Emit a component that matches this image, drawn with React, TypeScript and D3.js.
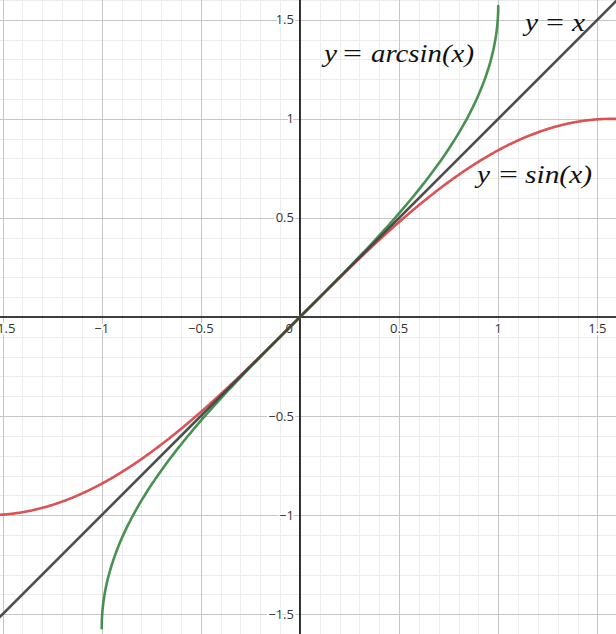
import React from "react";
import * as d3 from "d3";

const W = 616;
const H = 634;
const xDomain = [-1.513, 1.594];
const yDomain = [-1.6, 1.6];
const majorTicks = [-1.5, -1, -0.5, 0.5, 1, 1.5];
const xTickLabels = ["−1.5", "−1", "−0.5", "0.5", "1", "1.5"];
const yTickLabels = ["−1.5", "−1", "−0.5", "0.5", "1", "1.5"];
const minorStep = 0.1;

// curves: y = sin(x), y = arcsin(x), y = x
const curveNames = ["sin", "arcsin", "identity"];
const curveColors = ["#d94a4c", "#3f8b47", "#444444"];

const x = d3.scaleLinear().domain(xDomain).range([0, W]);
const y = d3.scaleLinear().domain(yDomain).range([H, 0]);

function curvePoints(name: string): [number, number][] {
  if (name === "sin") {
    return d3.range(xDomain[0], xDomain[1] + 0.001, 0.005).map((v) => [v, Math.sin(v)]);
  }
  if (name === "arcsin") {
    return d3.range(-Math.PI / 2, Math.PI / 2 + 0.0001, 0.005).map((t) => [Math.sin(t), t]);
  }
  return [
    [xDomain[0], xDomain[0]],
    [xDomain[1], xDomain[1]],
  ];
}

const line = d3
  .line<[number, number]>()
  .x((d) => x(d[0]))
  .y((d) => y(d[1]));

const mathFont = "'Liberation Serif', 'DejaVu Serif', serif";
const tickFont = "'Open Sans', 'Noto Sans', sans-serif";

type Part = { s: string; dx: number; w: number; it: boolean };

function MathLabel({ px, py, parts }: { px: number; py: number; parts: Part[] }) {
  return (
    <g fontFamily={mathFont} fontSize={26} fill="#111">
      {parts.map((p, i) => (
        <text key={i} x={px + p.dx} y={py} fontStyle={p.it ? "italic" : "normal"} textLength={p.w} lengthAdjust="spacingAndGlyphs">
          {p.s}
        </text>
      ))}
    </g>
  );
}

export default function App() {
  const minorX = d3.range(Math.ceil(xDomain[0] / minorStep), Math.floor(xDomain[1] / minorStep) + 1).map((k) => k * minorStep);
  const minorY = d3.range(Math.ceil(yDomain[0] / minorStep), Math.floor(yDomain[1] / minorStep) + 1).map((k) => k * minorStep);
  const x0 = x(0);
  const y0 = y(0);
  const halo = { paintOrder: "stroke" as const, stroke: "#fff", strokeWidth: 4, strokeLinejoin: "round" as const };
  return (
    <svg width={W} height={H} style={{ position: "fixed", left: 0, top: 0, background: "#fff" }}>
      <rect width={W} height={H} fill="#fff" />
      <g shapeRendering="crispEdges">
        {minorX.map((v, i) => (
          <line key={"mx" + i} x1={Math.round(x(v)) + 0.5} x2={Math.round(x(v)) + 0.5} y1={0} y2={H} stroke="#ececec" strokeWidth={1} />
        ))}
        {minorY.map((v, i) => (
          <line key={"my" + i} y1={Math.round(y(v)) + 0.5} y2={Math.round(y(v)) + 0.5} x1={0} x2={W} stroke="#ececec" strokeWidth={1} />
        ))}
        {majorTicks.map((v, i) => (
          <line key={"Mx" + i} x1={Math.round(x(v)) + 0.5} x2={Math.round(x(v)) + 0.5} y1={0} y2={H} stroke="#c6c6c6" strokeWidth={1} />
        ))}
        {majorTicks.map((v, i) => (
          <line key={"My" + i} y1={Math.round(y(v)) + 0.5} y2={Math.round(y(v)) + 0.5} x1={0} x2={W} stroke="#c6c6c6" strokeWidth={1} />
        ))}
      </g>
      {majorTicks.map((v, i) => (
        <text key={"xl" + i} x={x(v)} y={y0 + 16} textAnchor="middle" fontFamily={tickFont} fontSize={13} fill="#333" style={halo}>
          {xTickLabels[i]}
        </text>
      ))}
      {majorTicks.map((v, i) => (
        <text key={"yl" + i} x={x0 - 6} y={y(v) + 4.5} textAnchor="end" fontFamily={tickFont} fontSize={13} fill="#333" style={halo}>
          {yTickLabels[i]}
        </text>
      ))}
      <text x={x0 - 7} y={y0 + 16} textAnchor="end" fontFamily={tickFont} fontSize={13} fill="#333" style={halo}>
        0
      </text>
      <line x1={x0} x2={x0} y1={0} y2={H} stroke="#000" strokeWidth={1.6} />
      <line x1={0} x2={W} y1={y0} y2={y0} stroke="#000" strokeWidth={1.6} />
      {curveNames.map((n, i) => (
        <path key={n} d={line(curvePoints(n)) || ""} fill="none" stroke={curveColors[i]} strokeWidth={2.6} strokeOpacity={0.95} strokeLinecap="round" />
      ))}
      <MathLabel
        px={324}
        py={62}
        parts={[
          { s: "y", dx: 0, w: 13, it: true },
          { s: "=", dx: 19, w: 19, it: false },
          { s: "arcsin(x)", dx: 47, w: 103, it: true },
        ]}
      />
      <MathLabel
        px={525}
        py={31}
        parts={[
          { s: "y", dx: 0, w: 13, it: true },
          { s: "=", dx: 21, w: 18, it: false },
          { s: "x", dx: 47, w: 13, it: true },
        ]}
      />
      <MathLabel
        px={477}
        py={183}
        parts={[
          { s: "y", dx: 0, w: 13, it: true },
          { s: "=", dx: 22, w: 19, it: false },
          { s: "sin(x)", dx: 48, w: 67, it: true },
        ]}
      />
    </svg>
  );
}
